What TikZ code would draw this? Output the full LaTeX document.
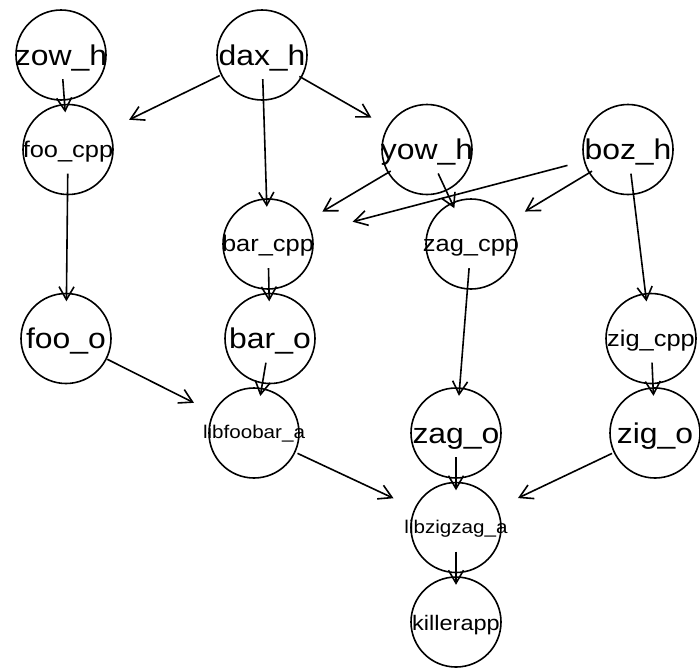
\documentclass[tikz,border=0pt]{standalone}
\usepackage{fontspec}
\setmainfont{Liberation Sans}[FakeStretch=1.12]
\usetikzlibrary{shapes.geometric,arrows.meta}

\begin{document}
\begin{tikzpicture}[x=1pt,y=-1pt,
    vtx/.style={ellipse,inner sep=0pt,minimum width=160pt,minimum height=48pt,
      text depth=0pt,label={[ring]center:}},
    ring/.style={circle,draw,line width=1.6pt,minimum size=90pt,inner sep=0pt},
    big/.style={font=\fontsize{28.5}{30}\selectfont,text height=20pt},
    mid/.style={font=\fontsize{22.7}{24}\selectfont,text height=15pt},
    small/.style={font=\fontsize{18.4}{20}\selectfont,text height=11pt},
    dep/.style={-{Straight Barb[length=13pt,width=15pt]},line width=1.6pt,
      shorten >=13pt},
    side/.style={dep,shorten >=21pt}]
  \fill[white] (0,0) rectangle (700,667);
  \useasboundingbox (0,0) rectangle (700,667);

  % headers
  \node[vtx,big] (zow-h) at (61,55) {zow\_h};
  \node[vtx,big] (dax-h) at (262,55) {dax\_h};
  \node[vtx,big] (yow-h) at (427,149.5) {yow\_h};
  \node[vtx,big] (boz-h) at (628,149.5) {boz\_h};

  % sources and objects
  \node[vtx,mid] (foo-cpp) at (68,149.5) {foo\_cpp};
  \node[vtx,mid] (bar-cpp) at (268,244) {bar\_cpp};
  \node[vtx,mid] (zag-cpp) at (471,244) {zag\_cpp};
  \node[vtx,mid] (zig-cpp) at (651,338.5) {zig\_cpp};
  \node[vtx,big] (foo-o) at (66,338.5) {foo\_o};
  \node[vtx,big] (bar-o) at (270,338.5) {bar\_o};
  \node[vtx,big] (zag-o) at (456,433) {zag\_o};
  \node[vtx,big] (zig-o) at (655,433) {zig\_o};

  % libraries and the program
  \node[vtx,small] (libfoobar-a) at (254,433) {libfoobar\_a};
  \node[vtx,small] (libzigzag-a) at (456,527.5) {libzigzag\_a};
  \node[vtx,font=\fontsize{21}{22}\selectfont,text height=16pt] (killerapp)
    at (456,622) {killerapp};

  \draw[dep] (zow-h) -- (foo-cpp);
  \draw[side] (dax-h) -- (foo-cpp);
  \draw[dep] (dax-h) -- (bar-cpp);
  \draw[side] (dax-h) -- (yow-h);
  \draw[side] (yow-h) -- (bar-cpp);
  \draw[dep] (yow-h) -- (zag-cpp);
  \draw[side,shorten >=25pt] (boz-h) -- (bar-cpp);
  \draw[side] (boz-h) -- (zag-cpp);
  \draw[dep] (boz-h) -- (zig-cpp);
  \draw[dep] (foo-cpp) -- (foo-o);
  \draw[dep] (bar-cpp) -- (bar-o);
  \draw[dep] (zag-cpp) -- (zag-o);
  \draw[dep] (zig-cpp) -- (zig-o);
  \draw[side] (foo-o) -- (libfoobar-a);
  \draw[dep] (bar-o) -- (libfoobar-a);
  \draw[side] (libfoobar-a) -- (libzigzag-a);
  \draw[dep] (zag-o) -- (libzigzag-a);
  \draw[side] (zig-o) -- (libzigzag-a);
  \draw[dep] (libzigzag-a) -- (killerapp);
\end{tikzpicture}
\end{document}
